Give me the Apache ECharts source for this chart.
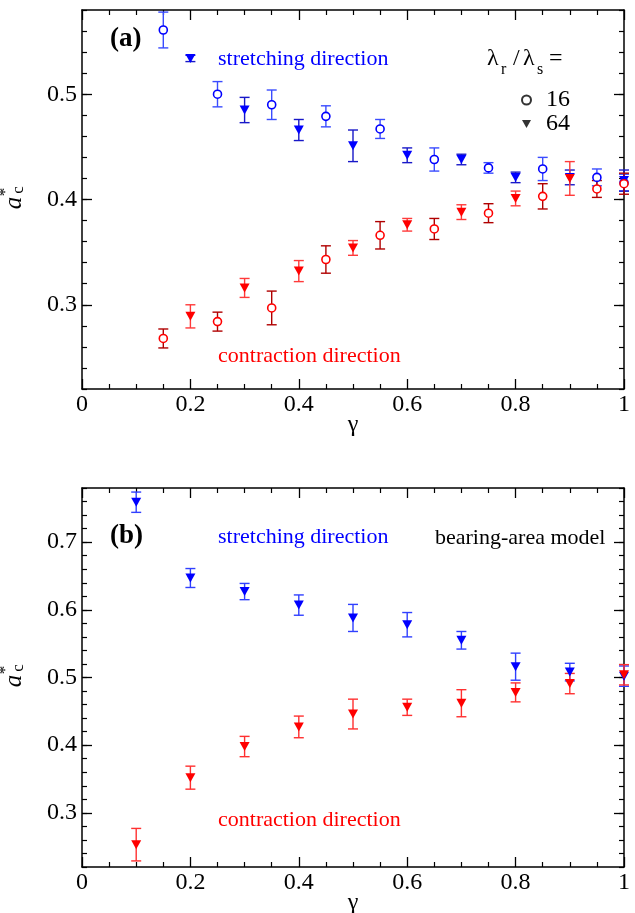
<!DOCTYPE html>
<html><head><meta charset="utf-8">
<script src="https://cdn.jsdelivr.net/npm/echarts@6/dist/echarts.min.js"></script>
<style>html,body{margin:0;padding:0;background:#fff}#c{width:635px;height:913px}</style>
</head><body><div id="c"></div>
<script>
// ---------- data ----------
// panel (a)
const xA16 = [0.15, 0.25, 0.35, 0.45, 0.55, 0.65, 0.75, 0.85, 0.95, 1.0];
const xA64 = [0.2, 0.3, 0.4, 0.5, 0.6, 0.7, 0.8, 0.9, 1.0];
const stretchA16 = [0.561, 0.500, 0.490, 0.479, 0.467, 0.438, 0.430, 0.429, 0.421, 0.416];
const stretchA16Err = [0.017, 0.012, 0.014, 0.010, 0.009, 0.011, 0.005, 0.011, 0.008, 0.008];
const stretchA64 = [0.534, 0.485, 0.466, 0.451, 0.442, 0.438, 0.421, 0.421, 0.418];
const stretchA64Err = [0.003, 0.012, 0.010, 0.015, 0.007, 0.005, 0.005, 0.007, 0.010];
const contrA16 = [0.268, 0.284, 0.297, 0.343, 0.366, 0.372, 0.387, 0.403, 0.410, 0.415];
const contrA16Err = [0.009, 0.009, 0.016, 0.013, 0.013, 0.010, 0.009, 0.012, 0.008, 0.010];
const xA64c = [0.2, 0.3, 0.4, 0.5, 0.6, 0.7, 0.8, 0.9];
const contrA64 = [0.289, 0.316, 0.332, 0.354, 0.376, 0.388, 0.401, 0.420];
const contrA64Err = [0.011, 0.009, 0.010, 0.007, 0.006, 0.007, 0.007, 0.016];
// panel (b)
const xB = [0.1, 0.2, 0.3, 0.4, 0.5, 0.6, 0.7, 0.8, 0.9, 1.0];
const stretchB = [0.759, 0.647, 0.627, 0.607, 0.588, 0.578, 0.555, 0.516, 0.508, 0.502];
const stretchBErr = [0.015, 0.014, 0.012, 0.015, 0.020, 0.018, 0.013, 0.020, 0.013, 0.015];
const contrB = [0.253, 0.352, 0.398, 0.427, 0.446, 0.456, 0.462, 0.478, 0.491, 0.504];
const contrBErr = [0.024, 0.017, 0.015, 0.016, 0.022, 0.012, 0.020, 0.014, 0.015, 0.015];
// ticks
const xTicks = [0, 0.2, 0.4, 0.6, 0.8, 1];
const xTickLabels = ['0', '0.2', '0.4', '0.6', '0.8', '1'];
const yTicksA = [0.3, 0.4, 0.5];
const yTickLabelsA = ['0.3', '0.4', '0.5'];
const yTicksB = [0.3, 0.4, 0.5, 0.6, 0.7];
const yTickLabelsB = ['0.3', '0.4', '0.5', '0.6', '0.7'];
const yRangeA = [0.22, 0.58];
const yRangeB = [0.22, 0.78];
const legendLabels = ['16', '64'];

// ---------- styling ----------
const FAM = 'Liberation Serif';
const FONT = '"Liberation Serif", serif';
const BLUE = '#0000ff', RED = '#ff0000';

function lookup(ticks, labels) {
  return v => { const i = ticks.findIndex(t => Math.abs(t - v) < 1e-9); return i >= 0 ? labels[i] : ''; };
}

const grids = [
  { left: 82, right: 11, top: 10, height: 379, containLabel: false, outerBoundsMode: 'none' },
  { left: 82, right: 11, top: 488, height: 379, containLabel: false, outerBoundsMode: 'none' }
];

const lineStyle = { color: '#000', width: 1.5 };
function xAxes(g) {
  const base = {
    gridIndex: g, type: 'value', min: 0, max: 1, interval: 0.2,
    axisLine: { show: true, onZero: false, lineStyle },
    axisTick: { show: true, inside: true, length: 10, lineStyle: { color: '#000', width: 1.3 } },
    minorTick: { show: true, splitNumber: 4, length: 5, lineStyle: { color: '#000', width: 1.2 } },
    splitLine: { show: false }, minorSplitLine: { show: false }
  };
  return [
    Object.assign({}, base, {
      position: 'bottom',
      axisLabel: { show: true, fontFamily: FAM, fontSize: 24, color: '#000', margin: 4,
        formatter: lookup(xTicks, xTickLabels) },
      name: 'γ', nameLocation: 'middle', nameGap: 24, nameMoveOverlap: false,
      nameTextStyle: { fontFamily: FAM, fontSize: 24, color: '#000' }
    }),
    Object.assign({}, base, { position: 'top', axisLabel: { show: false } })
  ];
}
function yAxes(g, range, ticks, labels) {
  const major = {
    gridIndex: g, type: 'value', min: range[0], max: range[1], interval: 0.02,
    axisLine: { show: true, onZero: false, lineStyle },
    axisTick: { show: true, inside: true, length: 10, customValues: ticks, lineStyle: { color: '#000', width: 1.3 } },
    splitLine: { show: false }
  };
  const minor = {
    gridIndex: g, type: 'value', min: range[0], max: range[1], interval: 0.02,
    axisLine: { show: false, onZero: false },
    axisTick: { show: true, inside: true, length: 5, lineStyle: { color: '#000', width: 1.2 } },
    axisLabel: { show: false }, splitLine: { show: false }
  };
  return [
    Object.assign({}, major, { position: 'left',
      axisLabel: { show: true, customValues: ticks, fontFamily: FAM, fontSize: 24, color: '#000', margin: 5,
        formatter: lookup(ticks, labels) } }),
    Object.assign({}, major, { position: 'right', axisLabel: { show: false } }),
    Object.assign({}, minor, { position: 'left' }),
    Object.assign({}, minor, { position: 'right' })
  ];
}

function errSeries(xi, yi, xs, vs, es, color) {
  return {
    type: 'custom', xAxisIndex: xi, yAxisIndex: yi, silent: true, z: 2, clip: false,
    encode: { x: 0, y: [1, 2] },
    data: xs.map((x, i) => [x, vs[i] - es[i], vs[i] + es[i]]),
    renderItem(params, api) {
      const lo = api.coord([api.value(0), api.value(1)]);
      const hi = api.coord([api.value(0), api.value(2)]);
      const w = 5;
      const st = { stroke: color, lineWidth: 1.4 };
      return { type: 'group', children: [
        { type: 'line', shape: { x1: lo[0], y1: lo[1], x2: hi[0], y2: hi[1] }, style: st },
        { type: 'line', shape: { x1: lo[0] - w, y1: lo[1], x2: lo[0] + w, y2: lo[1] }, style: st },
        { type: 'line', shape: { x1: hi[0] - w, y1: hi[1], x2: hi[0] + w, y2: hi[1] }, style: st }
      ] };
    }
  };
}
function circles(xi, yi, xs, vs, color) {
  return { type: 'scatter', xAxisIndex: xi, yAxisIndex: yi, silent: true, z: 3,
    symbol: 'circle', symbolSize: 8,
    itemStyle: { color: '#fff', borderColor: color, borderWidth: 1.6, opacity: 1 },
    data: xs.map((x, i) => [x, vs[i]]) };
}
function triangles(xi, yi, xs, vs, color) {
  return { type: 'scatter', xAxisIndex: xi, yAxisIndex: yi, silent: true, z: 3,
    symbol: 'triangle', symbolRotate: 180, symbolSize: [10, 9],
    itemStyle: { color: color, opacity: 1 },
    data: xs.map((x, i) => [x, vs[i]]) };
}

const series = [
  // panel (a): x axis 0, y axis 0
  errSeries(0, 0, xA16, stretchA16, stretchA16Err, '#3a4cff'),
  errSeries(0, 0, xA64, stretchA64, stretchA64Err, '#1818c8'),
  errSeries(0, 0, xA16, contrA16, contrA16Err, '#b00000'),
  errSeries(0, 0, xA64c, contrA64, contrA64Err, '#ff3a3a'),
  circles(0, 0, xA16, stretchA16, BLUE),
  triangles(0, 0, xA64, stretchA64, BLUE),
  circles(0, 0, xA16, contrA16, RED),
  triangles(0, 0, xA64c, contrA64, RED),
  // panel (b): x axis 2, y axis 4
  errSeries(2, 4, xB, stretchB, stretchBErr, '#3040ff'),
  errSeries(2, 4, xB, contrB, contrBErr, '#ff3030'),
  triangles(2, 4, xB, stretchB, BLUE),
  triangles(2, 4, xB, contrB, RED),
  // legend-only series
  { type: 'scatter', name: legendLabels[0], xAxisIndex: 0, yAxisIndex: 0, data: [],
    symbol: 'emptyCircle', itemStyle: { color: '#000', borderColor: '#000', borderWidth: 1.5 } },
  { type: 'scatter', name: legendLabels[1], xAxisIndex: 0, yAxisIndex: 0, data: [],
    symbol: 'triangle', symbolRotate: 180, itemStyle: { color: '#000' } }
];

function txt(x, y, text, font, color, align) {
  return { type: 'text', x: x, y: y, silent: true, z: 10,
    style: { text: text, font: font, fill: color || '#000',
      align: align || 'left', textAlign: align || 'left',
      verticalAlign: 'middle', textVerticalAlign: 'middle' } };
}
function yName(cx, cy) {
  return { type: 'group', x: cx, y: cy, rotation: Math.PI / 2, silent: true, children: [
    { type: 'text', x: 0, y: 0, style: { text: 'a', font: 'italic 25px ' + FONT, fill: '#000',
      align: 'center', textAlign: 'center', verticalAlign: 'middle', textVerticalAlign: 'middle' } },
    { type: 'text', x: 11, y: -8, style: { text: '*', font: '17px ' + FONT, fill: '#000',
      align: 'center', textAlign: 'center', verticalAlign: 'middle', textVerticalAlign: 'middle' } },
    { type: 'text', x: 13, y: 5, style: { text: 'c', font: '17px ' + FONT, fill: '#000',
      align: 'center', textAlign: 'center', verticalAlign: 'middle', textVerticalAlign: 'middle' } }
  ] };
}
const F22 = '22px ' + FONT;
const graphic = [
  txt(110, 39, '(a)', 'bold 27px ' + FONT, '#000'),
  txt(218, 59, 'stretching direction', F22, BLUE),
  txt(218, 356, 'contraction direction', F22, RED),
  txt(487, 59, 'λ', '24px ' + FONT, '#000'),
  txt(501, 70, 'r', '16px ' + FONT, '#000'),
  txt(513, 59, '/', '24px ' + FONT, '#000'),
  txt(523, 59, 'λ', '24px ' + FONT, '#000'),
  txt(537, 70, 's', '16px ' + FONT, '#000'),
  txt(549, 59, '=', '24px ' + FONT, '#000'),
  txt(110, 536, '(b)', 'bold 27px ' + FONT, '#000'),
  txt(218, 537, 'stretching direction', F22, BLUE),
  txt(435, 538, 'bearing-area model', F22, '#000'),
  txt(218, 820, 'contraction direction', F22, RED),
  yName(14, 203),
  yName(14, 681)
];

const chart = echarts.init(document.getElementById('c'), null, { renderer: 'canvas' });
chart.setOption({
  animation: false,
  backgroundColor: '#fff',
  grid: grids,
  xAxis: [].concat(xAxes(0), xAxes(1)),
  yAxis: [].concat(yAxes(0, yRangeA, yTicksA, yTickLabelsA), yAxes(1, yRangeB, yTicksB, yTickLabelsB)),
  legend: {
    data: [
      { name: legendLabels[0], icon: 'emptyCircle' },
      { name: legendLabels[1], icon: 'path://M0,0 L10,0 L5,9 Z' }
    ],
    orient: 'vertical', left: 516, top: 83, itemWidth: 9, itemHeight: 9, itemGap: 0,
    selectedMode: false,
    textStyle: { fontFamily: FAM, fontSize: 24, color: '#000', lineHeight: 23, padding: [0, 0, 0, 10] }
  },
  graphic: graphic,
  series: series
});
</script>
</body></html>
